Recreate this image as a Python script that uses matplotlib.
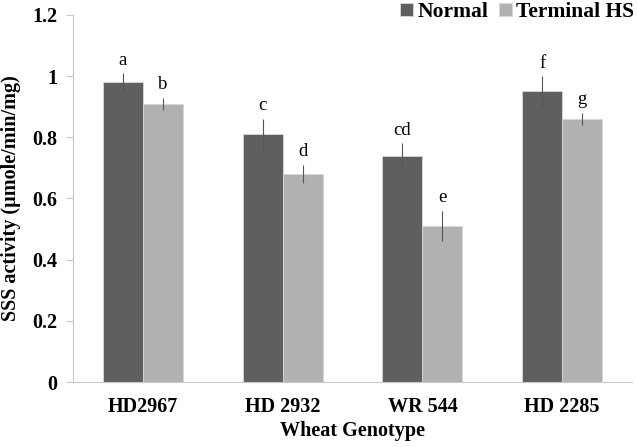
import numpy as np
import matplotlib
matplotlib.use("Agg")
import matplotlib.pyplot as plt

genotypes = ["HD2967", "HD 2932", "WR 544", "HD 2285"]
normal = [0.98, 0.81, 0.74, 0.95]
normal_err = [0.03, 0.05, 0.04, 0.05]
terminal = [0.91, 0.68, 0.51, 0.86]
terminal_err = [0.02, 0.03, 0.05, 0.02]
normal_letters = ["a", "c", "cd", "f"]
terminal_letters = ["b", "d", "e", "g"]

plt.rcParams['font.family'] = ['Liberation Serif', 'DejaVu Serif']

fig = plt.figure(figsize=(6.38, 4.47), dpi=100)
ax = fig.add_axes([73/638, 65/447, 559/638, 367/447])

x = np.arange(len(genotypes))
w = 0.286
ax.bar(x - w/2, normal, w, color="#5f5f5f", edgecolor="#d8d8d8", linewidth=0.6,
       label="Normal", yerr=normal_err, error_kw=dict(ecolor="#555555", elinewidth=0.8, capsize=0))
ax.bar(x + w/2, terminal, w, color="#b1b1b1", edgecolor="#d8d8d8", linewidth=0.6,
       label="Terminal HS", yerr=terminal_err, error_kw=dict(ecolor="#555555", elinewidth=0.8, capsize=0))

# significance letters above error bars
for i in range(len(genotypes)):
    ax.text(x[i] - w/2, normal[i] + normal_err[i] + 0.015, normal_letters[i],
            ha="center", va="bottom", fontsize=13.5)
    ax.text(x[i] + w/2, terminal[i] + terminal_err[i] + 0.015, terminal_letters[i],
            ha="center", va="bottom", fontsize=13.5)

ax.set_xlim(-0.5, len(genotypes) - 0.5)
ax.set_ylim(0, 1.2)
ax.set_yticks(np.arange(0, 1.21, 0.2))
ax.set_yticklabels(["0", "0.2", "0.4", "0.6", "0.8", "1", "1.2"])
ax.set_xticks(x)
ax.set_xticklabels(genotypes)
for lab in ax.get_xticklabels() + ax.get_yticklabels():
    lab.set_fontweight("bold")
    lab.set_fontsize(14.5)

ax.spines["top"].set_visible(False)
ax.spines["right"].set_visible(False)
ax.spines["left"].set_color("#c8c8c8")
ax.spines["bottom"].set_color("#c8c8c8")
ax.tick_params(axis="y", direction="out", length=5, color="#c8c8c8", pad=6)
ax.tick_params(axis="x", length=0, pad=11)

ax.set_xlabel("Wheat Genotype", fontsize=14.5, fontweight="bold", labelpad=3)
ax.set_ylabel("SSS activity (µmole/min/mg)", fontsize=14.5, fontweight="bold", labelpad=8)

fig.legend(loc="upper right", bbox_to_anchor=(634/638, 1 - 2/447), ncol=2, frameon=False,
           prop=dict(weight="bold", size=15.5), handlelength=0.6, handleheight=0.6,
           handletextpad=0.2, columnspacing=0.5, borderaxespad=0, borderpad=0)

fig.savefig("out.png", dpi=100)
